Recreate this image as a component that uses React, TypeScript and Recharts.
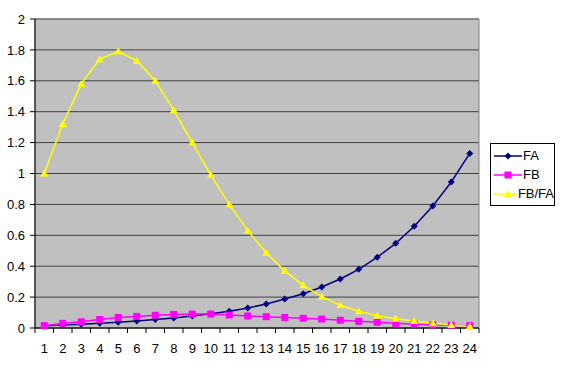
import {
  LineChart,
  Line,
  XAxis,
  YAxis,
  CartesianGrid,
  ReferenceArea,
} from "recharts";

const categories = [
  "1", "2", "3", "4", "5", "6", "7", "8", "9", "10", "11", "12",
  "13", "14", "15", "16", "17", "18", "19", "20", "21", "22", "23", "24",
];

const faValues = [
  0.015, 0.02, 0.025, 0.03, 0.038, 0.045, 0.055, 0.065, 0.077, 0.092, 0.108, 0.13,
  0.155, 0.188, 0.222, 0.265, 0.317, 0.38, 0.458, 0.548, 0.658, 0.79, 0.945, 1.13,
];

const fbValues = [
  0.015, 0.03, 0.04, 0.055, 0.068, 0.075, 0.082, 0.088, 0.09, 0.09, 0.084, 0.078,
  0.073, 0.068, 0.063, 0.058, 0.05, 0.043, 0.037, 0.03, 0.025, 0.02, 0.018, 0.015,
];

const ratioValues = [
  1.0, 1.32, 1.58, 1.74, 1.79, 1.73, 1.6, 1.41, 1.2, 0.99, 0.8, 0.63,
  0.487, 0.37, 0.276, 0.203, 0.147, 0.108, 0.08, 0.06, 0.045, 0.03, 0.02, 0.01,
];

const yTicks = [0, 0.2, 0.4, 0.6, 0.8, 1, 1.2, 1.4, 1.6, 1.8, 2];

const data = categories.map((c, i) => ({
  x: c,
  FA: faValues[i],
  FB: fbValues[i],
  "FB/FA": ratioValues[i],
}));

const FONT = "'Liberation Sans', Arial, sans-serif";
const BAND = (479 - 35) / 24;

const Diamond = (props: any) => {
  const { cx, cy, fill } = props;
  if (cx == null || cy == null) return null;
  return (
    <polygon
      points={`${cx},${cy - 3.5} ${cx + 3.5},${cy} ${cx},${cy + 3.5} ${cx - 3.5},${cy}`}
      fill={fill}
    />
  );
};

const Square = (props: any) => {
  const { cx, cy, fill } = props;
  if (cx == null || cy == null) return null;
  return <rect x={cx - 3.5} y={cy - 3.5} width={7} height={7} fill={fill} />;
};

const Triangle = (props: any) => {
  const { cx, cy, fill } = props;
  if (cx == null || cy == null) return null;
  return (
    <polygon
      points={`${cx},${cy - 4} ${cx + 4},${cy + 3} ${cx - 4},${cy + 3}`}
      fill={fill}
    />
  );
};

const XTick = (props: any) => {
  const { x, y, payload, index } = props;
  return (
    <g>
      <line x1={x - BAND / 2} y1={y - 8} x2={x - BAND / 2} y2={y - 3} stroke="#000" />
      {index === categories.length - 1 && (
        <line x1={x + BAND / 2} y1={y - 8} x2={x + BAND / 2} y2={y - 3} stroke="#000" />
      )}
      <text x={x} y={y + 17} textAnchor="middle" fontSize={13} fontFamily={FONT} fill="#000">
        {payload.value}
      </text>
    </g>
  );
};

const series = [
  { key: "FA", color: "#000080", shape: Diamond },
  { key: "FB", color: "#FF00FF", shape: Square },
  { key: "FB/FA", color: "#FFFF00", shape: Triangle },
];

const LegendBox = () => (
  <div
    style={{
      position: "absolute",
      left: 490,
      top: 143,
      border: "1px solid #000",
      background: "#fff",
      width: 63,
      padding: "2px 0",
      fontFamily: FONT,
      fontSize: 13,
    }}
  >
    {series.map((s) => {
      const Shape = s.shape;
      return (
        <div key={s.key} style={{ display: "flex", alignItems: "center", height: 19 }}>
          <svg width={28} height={12} style={{ marginLeft: 3 }}>
            <line x1={0} y1={6} x2={28} y2={6} stroke={s.color} strokeWidth={1.5} />
            <Shape cx={14} cy={6} fill={s.color} />
          </svg>
          <span style={{ marginLeft: 1 }}>{s.key}</span>
        </div>
      );
    })}
  </div>
);

export default function App() {
  return (
    <div style={{ position: "absolute", left: 0, top: 0, width: 563, height: 374, background: "#fff" }}>
      <LineChart
        width={563}
        height={374}
        data={data}
        margin={{ top: 19, right: 84, bottom: 0, left: 0 }}
      >
        <CartesianGrid
          vertical={false}
          fill="#C0C0C0"
          stroke="#404040"
          strokeWidth={1}
        />
        <ReferenceArea y1={0} y2={2} fill="none" stroke="#808080" />
        <XAxis
          dataKey="x"
          scale="band"
          height={46}
          stroke="#000"
          tickLine={false}
          tick={<XTick />}
          interval={0}
        />
        <YAxis
          width={35}
          domain={[0, 2]}
          ticks={yTicks}
          stroke="#000"
          tickSize={5}
          tickMargin={5}
          tick={{ fontSize: 13, fontFamily: FONT, fill: "#000" }}
          tickFormatter={(v) => String(v)}
        />
        {series.map((s) => {
          const Shape = s.shape;
          return (
            <Line
              key={s.key}
              type="linear"
              dataKey={s.key}
              stroke={s.color}
              strokeWidth={1.5}
              dot={(p: any) => <Shape key={`${s.key}-${p.index}`} cx={p.cx} cy={p.cy} fill={s.color} />}
              activeDot={false}
              isAnimationActive={false}
            />
          );
        })}
      </LineChart>
      <LegendBox />
    </div>
  );
}
